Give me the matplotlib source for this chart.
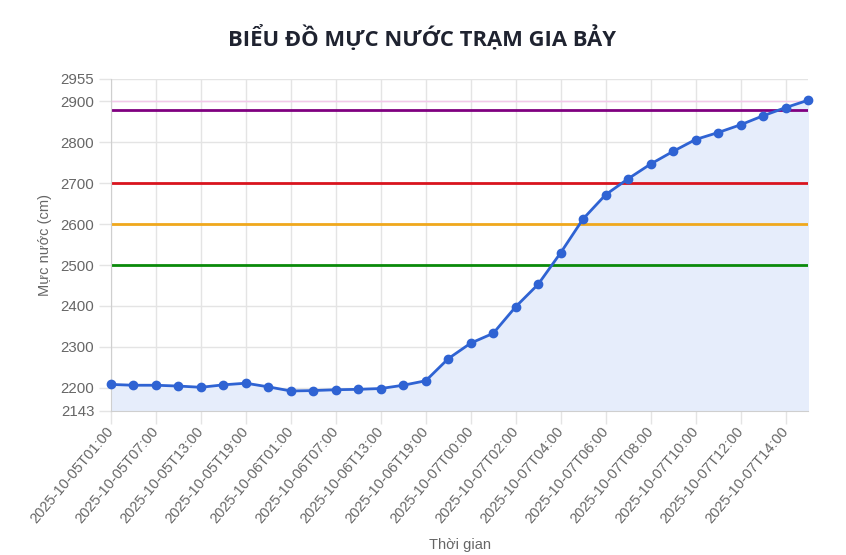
import matplotlib
matplotlib.use("Agg")
import matplotlib.pyplot as plt

times = [
    "2025-10-05T01:00", "2025-10-05T04:00", "2025-10-05T07:00", "2025-10-05T10:00",
    "2025-10-05T13:00", "2025-10-05T16:00", "2025-10-05T19:00", "2025-10-05T22:00",
    "2025-10-06T01:00", "2025-10-06T04:00", "2025-10-06T07:00", "2025-10-06T10:00",
    "2025-10-06T13:00", "2025-10-06T16:00", "2025-10-06T19:00", "2025-10-06T22:00",
    "2025-10-07T00:00", "2025-10-07T01:00", "2025-10-07T02:00", "2025-10-07T03:00",
    "2025-10-07T04:00", "2025-10-07T05:00", "2025-10-07T06:00", "2025-10-07T07:00",
    "2025-10-07T08:00", "2025-10-07T09:00", "2025-10-07T10:00", "2025-10-07T11:00",
    "2025-10-07T12:00", "2025-10-07T13:00", "2025-10-07T14:00", "2025-10-07T15:00",
]
water_level = [
    2208, 2206, 2206, 2204, 2201, 2207, 2211, 2202,
    2192, 2193, 2195, 2196, 2198, 2206, 2217, 2271,
    2309, 2333, 2398, 2453, 2530, 2613, 2672, 2711,
    2747, 2778, 2807, 2824, 2843, 2865, 2885, 2903,
]
alarm_levels = [2880, 2700, 2600, 2500]
alarm_colors = ["#800080", "#d9141e", "#f0a81c", "#0a8a0a"]
y_ticks = [2143, 2200, 2300, 2400, 2500, 2600, 2700, 2800, 2900, 2955]

fig = plt.figure(figsize=(8.46, 5.55), dpi=100)
ax = fig.add_axes([111/846, 1-411/555, (808-111)/846, (411-79)/555])

x = list(range(len(times)))
ax.set_xlim(0, len(times)-1)
ax.set_ylim(y_ticks[0], y_ticks[-1])

# grid
grid_c = "#e4e4e4"
for i in range(0, len(times), 2):
    ax.axvline(i, color=grid_c, lw=1, zorder=0)
for v in y_ticks:
    ax.axhline(v, color=grid_c, lw=1, zorder=0)
ax.axhline(2900, color="#f3c9ea", lw=1, zorder=0.5)

ax.fill_between(x, water_level, y_ticks[0], color="#e6edfb", zorder=1)

for lvl, c in zip(alarm_levels, alarm_colors):
    ax.axhline(lvl, color=c, lw=2, zorder=2)

ax.plot(x, water_level, color="#2f63d3", lw=2, marker="o", ms=6,
        markerfacecolor="#2f63d3", markeredgecolor="#2f63d3", zorder=3, clip_on=False)

for s in ["top", "right"]:
    ax.spines[s].set_visible(False)
ax.spines["left"].set_color("#cfcfcf")
ax.spines["bottom"].set_color("#cfcfcf")

ax.set_yticks(y_ticks)
ax.set_yticklabels([str(v) for v in y_ticks], fontfamily="Liberation Sans",
                   fontsize=10.8, color="#666666")
ax.set_xticks(x[::2])
ax.set_xticklabels(times[::2], rotation=50, ha="right", va="center",
                   rotation_mode="anchor", fontfamily="Liberation Sans",
                   fontsize=10.5, color="#666666")
ax.tick_params(axis="both", length=9, color="#e4e4e4", width=1)
ax.tick_params(axis="y", pad=3)
ax.tick_params(axis="x", pad=4)

ax.set_ylabel("Mực nước (cm)", fontfamily="Liberation Sans", fontsize=10.5, color="#666666")
ax.yaxis.set_label_coords(-(111-52)/(808-111), (411-245)/(411-79))
ax.set_xlabel("Thời gian", fontfamily="Liberation Sans", fontsize=10.5, color="#666666",
              va="center")
ax.xaxis.set_label_coords((460-111)/(808-111), -(545-411)/(411-79))

fig.text(422/846, 1-38/555, "BIỂU ĐỒ MỰC NƯỚC TRẠM GIA BẢY", ha="center", va="center",
         fontsize=15.8, fontweight="bold", fontfamily="Open Sans", color="#1f2330")

fig.savefig("out.png", dpi=100)
